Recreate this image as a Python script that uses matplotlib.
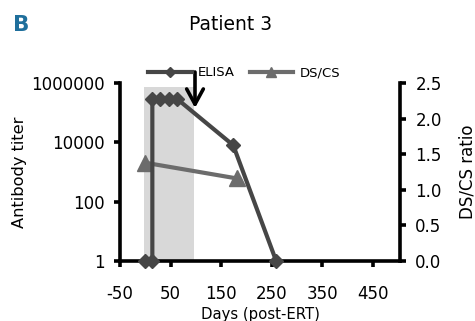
import matplotlib.pyplot as plt
from matplotlib.lines import Line2D

# Data
ELISA_DAYS = [0, 14, 14, 30, 46, 62, 174, 259]
ELISA_TITER = [1, 1, 300000, 300000, 300000, 300000, 8000, 1]
RATIO_DAYS = [0, 181]
RATIO_VALUES = [1.38, 1.16]
ERT_SPAN = (-3, 96)
X_TICKS = [-50, 50, 150, 250, 350, 450]
LEFT_TICKS = [1, 100, 10000, 1000000]
LEFT_TICK_LABELS = ["1", "100", "10000", "1000000"]
RIGHT_TICKS = [0.0, 0.5, 1.0, 1.5, 2.0, 2.5]

ELISA_COLOR = "#464646"
RATIO_COLOR = "#6c6c6c"
SHADE_COLOR = "#d8d8d8"

plt.rcParams['font.family'] = ['DejaVu Sans']

W, H = 475, 321
fig = plt.figure(figsize=(W / 100, H / 100), dpi=100)
ax = fig.add_axes([120 / W, 1 - 261 / H, (400 - 120) / W, (261 - 83) / H])
ax2 = ax.twinx()

ax2.axvspan(*ERT_SPAN, ymax=0.975, color=SHADE_COLOR, lw=0, zorder=0)
ax2.plot(RATIO_DAYS, RATIO_VALUES, color=RATIO_COLOR, lw=3, marker="^",
         markersize=12, clip_on=False, zorder=2)
ax.plot(ELISA_DAYS, ELISA_TITER, color=ELISA_COLOR, lw=3, marker="D",
        markersize=7.5, clip_on=False, zorder=3)
ax.set_zorder(ax2.get_zorder() + 1)
ax.patch.set_visible(False)

ax.set_xlim(-50, 504)
ax.set_yscale("log")
ax.set_ylim(1, 1000000)
ax2.set_ylim(0, 2.5)
ax.set_xticks(X_TICKS)
ax.set_xticklabels([str(t) for t in X_TICKS])
ax.set_yticks(LEFT_TICKS)
ax.set_yticklabels(LEFT_TICK_LABELS)
ax.yaxis.set_minor_locator(plt.NullLocator())
ax2.set_yticks(RIGHT_TICKS)
ax2.set_yticklabels([f"{t:.1f}" for t in RIGHT_TICKS])

for a in (ax, ax2):
    a.spines["top"].set_visible(False)
    for s in ("left", "right", "bottom"):
        a.spines[s].set_linewidth(2.6)
    a.tick_params(width=2.6, length=4, labelsize=12, pad=7)
ax.spines["right"].set_visible(False)
ax2.spines["left"].set_visible(False)
ax2.spines["bottom"].set_visible(False)
ax.tick_params(axis="x", pad=13)

ax.set_xlabel("Days (post-ERT)", fontsize=10.7, labelpad=3)
ax.set_ylabel("Antibody titer", fontsize=11.7, labelpad=3)
ax2.set_ylabel("DS/CS ratio", fontsize=12, labelpad=12)

fig.text(231 / W, 1 - 25 / H, "Patient 3", ha="center", va="center", fontsize=13.5)
fig.text(13 / W, 1 - 25 / H, "B", ha="left", va="center", fontsize=15.5,
         fontweight="bold", color="#1f6f9c")

handles = [
    Line2D([], [], color=ELISA_COLOR, lw=3, marker="D", markersize=5),
    Line2D([], [], color=RATIO_COLOR, lw=3, marker="^", markersize=7),
]
ax.legend(handles, ["ELISA", "DS/CS"], ncol=2, frameon=False, fontsize=9.5,
          loc="center left", bbox_to_anchor=(148 / W, 1 - 73 / H),
          bbox_transform=fig.transFigure, borderpad=0, borderaxespad=0,
          handlelength=3.3, handletextpad=0.5, columnspacing=1.1)

ax.annotate("", xy=(195 / W, 1 - 108 / H), xytext=(195 / W, 1 - 72 / H),
            xycoords="figure fraction", textcoords="figure fraction",
            arrowprops=dict(arrowstyle="->,head_length=1.1,head_width=0.6",
                            lw=2.6, color="black", shrinkA=0, shrinkB=0))

fig.savefig("out.png", dpi=100)
